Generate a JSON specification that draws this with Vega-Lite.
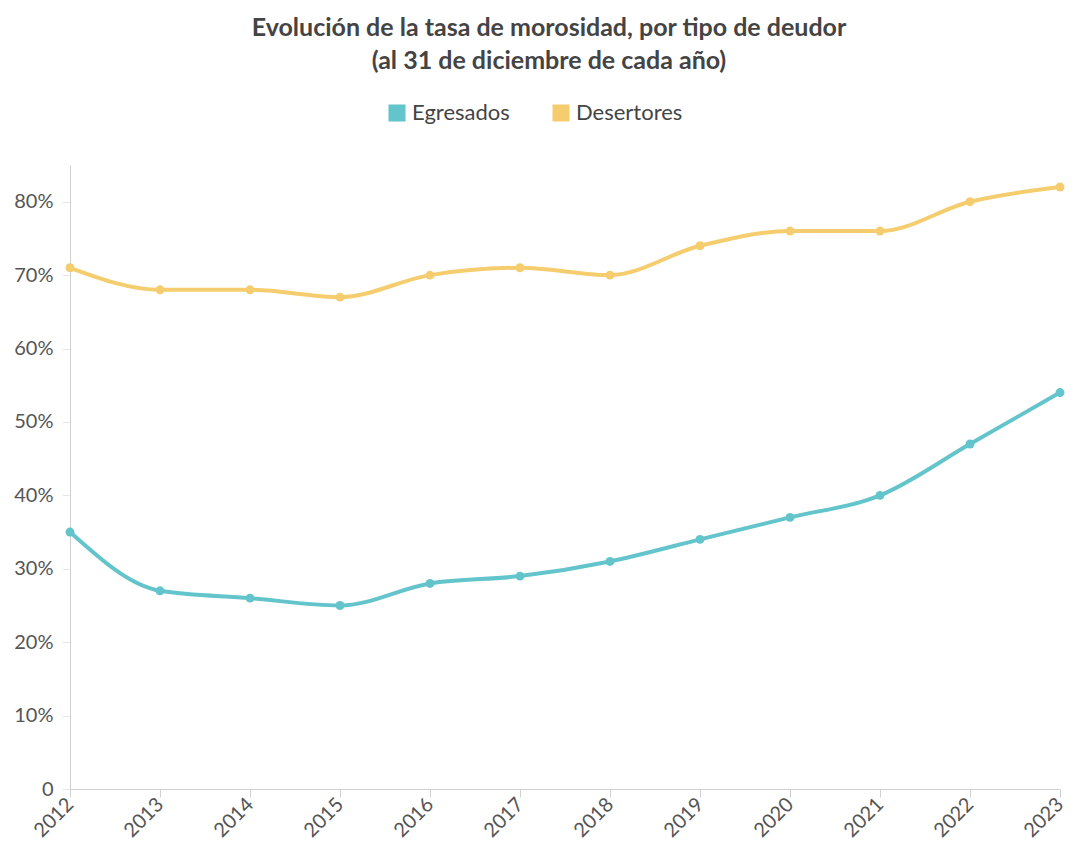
{
  "$schema": "https://vega.github.io/schema/vega-lite/v6.json",
  "width": 990,
  "height": 624,
  "autosize": {"type": "none"},
  "padding": {"left": 70, "top": 165, "right": 16, "bottom": 59},
  "background": "white",
  "title": {
    "text": ["Evolución de la tasa de morosidad, por tipo de deudor", "(al 31 de diciembre de cada año)"],
    "font": "Lato",
    "fontSize": 25,
    "fontWeight": "bold",
    "color": "#444444",
    "lineHeight": 33,
    "offset": 28,
    "dx": -16,
    "anchor": "middle"
  },
  "config": {
    "view": {"stroke": null},
    "font": "Lato"
  },
  "data": {
    "values": [
      {"year": "2012", "serie": "Egresados", "tasa": 0.35},
      {"year": "2013", "serie": "Egresados", "tasa": 0.27},
      {"year": "2014", "serie": "Egresados", "tasa": 0.26},
      {"year": "2015", "serie": "Egresados", "tasa": 0.25},
      {"year": "2016", "serie": "Egresados", "tasa": 0.28},
      {"year": "2017", "serie": "Egresados", "tasa": 0.29},
      {"year": "2018", "serie": "Egresados", "tasa": 0.31},
      {"year": "2019", "serie": "Egresados", "tasa": 0.34},
      {"year": "2020", "serie": "Egresados", "tasa": 0.37},
      {"year": "2021", "serie": "Egresados", "tasa": 0.40},
      {"year": "2022", "serie": "Egresados", "tasa": 0.47},
      {"year": "2023", "serie": "Egresados", "tasa": 0.54},
      {"year": "2012", "serie": "Desertores", "tasa": 0.71},
      {"year": "2013", "serie": "Desertores", "tasa": 0.68},
      {"year": "2014", "serie": "Desertores", "tasa": 0.68},
      {"year": "2015", "serie": "Desertores", "tasa": 0.67},
      {"year": "2016", "serie": "Desertores", "tasa": 0.70},
      {"year": "2017", "serie": "Desertores", "tasa": 0.71},
      {"year": "2018", "serie": "Desertores", "tasa": 0.70},
      {"year": "2019", "serie": "Desertores", "tasa": 0.74},
      {"year": "2020", "serie": "Desertores", "tasa": 0.76},
      {"year": "2021", "serie": "Desertores", "tasa": 0.76},
      {"year": "2022", "serie": "Desertores", "tasa": 0.80},
      {"year": "2023", "serie": "Desertores", "tasa": 0.82}
    ]
  },
  "encoding": {
    "x": {
      "field": "year",
      "type": "ordinal",
      "scale": {"type": "point", "padding": 0},
      "axis": {
        "title": null,
        "labelAngle": -45,
        "labelAlign": "right",
        "labelBaseline": "middle",
        "labelFontSize": 20,
        "labelColor": "#555555",
        "labelPadding": 4,
        "domainColor": "#d0d0d0",
        "tickColor": "#d0d0d0",
        "tickSize": 8,
        "grid": false
      }
    },
    "y": {
      "field": "tasa",
      "type": "quantitative",
      "scale": {"domain": [0, 0.85], "nice": false},
      "axis": {
        "title": null,
        "values": [0, 0.1, 0.2, 0.3, 0.4, 0.5, 0.6, 0.7, 0.8],
        "labelExpr": "datum.value == 0 ? '0' : format(datum.value, '.0%')",
        "labelFontSize": 20,
        "labelColor": "#555555",
        "labelPadding": 9,
        "domainColor": "#d0d0d0",
        "tickColor": "#e6e6e6",
        "tickSize": 8,
        "grid": false
      }
    },
    "color": {
      "field": "serie",
      "type": "nominal",
      "scale": {"domain": ["Egresados", "Desertores"], "range": ["#63C5CB", "#F5CD6E"]},
      "legend": {
        "title": null,
        "orient": "none",
        "direction": "horizontal",
        "legendX": 316,
        "legendY": -63,
        "symbolType": "square",
        "symbolSize": 290,
        "symbolStrokeWidth": 0,
        "symbolOpacity": 1,
        "labelFontSize": 22,
        "labelColor": "#444444",
        "labelOffset": 4,
        "columnPadding": 40
      }
    }
  },
  "layer": [
    {"mark": {"type": "line", "interpolate": "monotone", "strokeWidth": 4}},
    {"mark": {"type": "point", "filled": true, "size": 80, "opacity": 1}}
  ]
}
